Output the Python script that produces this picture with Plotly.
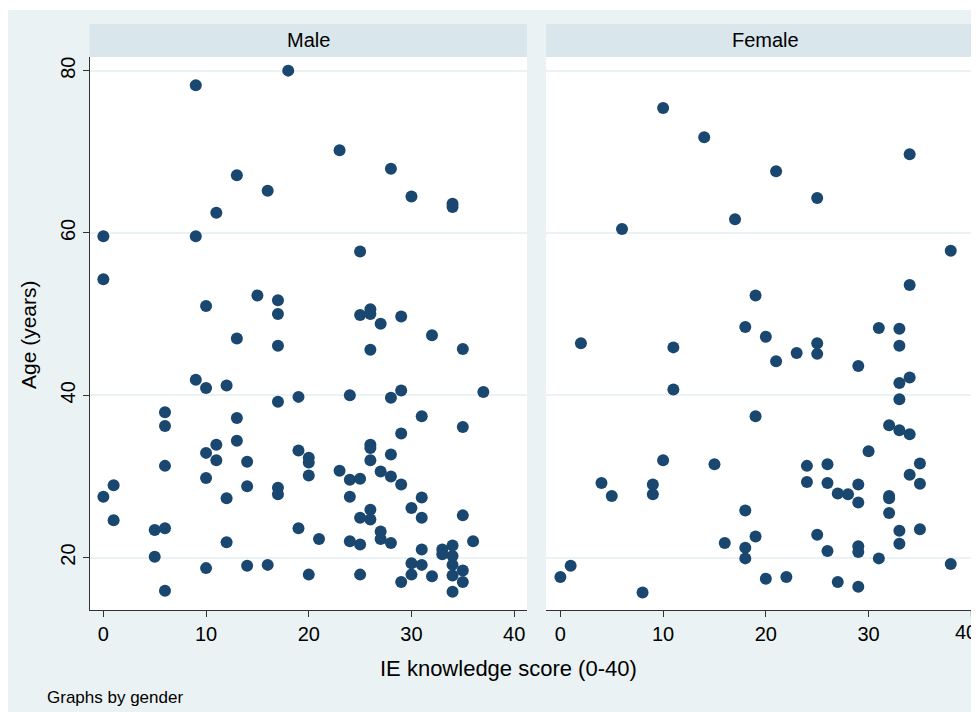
import plotly.graph_objects as go

male_score = [18, 9, 13, 16, 11, 0, 9, 0, 15, 17, 10, 23, 28, 30, 34, 34, 25, 17, 13, 17,
              9, 10, 12, 17, 19, 6, 6, 13, 11, 13, 10, 11, 14, 19, 20, 20, 20, 6, 10, 14,
              17, 17, 1, 0, 12, 1, 5, 6, 19, 12, 5, 10, 14, 16, 20, 6, 25, 26, 26, 27,
              29, 32, 35, 26, 24, 28, 29, 37, 31, 35, 29, 26, 26, 28, 26, 23, 24, 25, 27, 28,
              29, 24, 31, 30, 26, 26, 25, 31, 35, 21, 24, 25, 27, 27, 28, 36, 31, 33, 33, 34,
              34, 34, 30, 31, 35, 25, 29, 30, 32, 34, 35, 34]
male_age = [80.0, 78.2, 67.1, 65.2, 62.5, 59.6, 59.6, 54.3, 52.3, 51.7, 51.0, 70.2, 67.9, 64.5, 63.6, 63.2, 57.7, 50.0, 47.0, 46.1,
            41.9, 40.9, 41.2, 39.2, 39.8, 37.9, 36.2, 37.2, 33.9, 34.4, 32.9, 32.0, 31.8, 33.2, 32.3, 31.7, 30.1, 31.3, 29.8, 28.8,
            28.6, 27.8, 28.9, 27.5, 27.3, 24.6, 23.4, 23.6, 23.6, 21.9, 20.1, 18.7, 19.0, 19.1, 17.9, 15.9, 49.9, 50.6, 50.0, 48.8,
            49.7, 47.4, 45.7, 45.6, 40.0, 39.7, 40.6, 40.4, 37.4, 36.1, 35.3, 33.9, 33.5, 32.7, 32.0, 30.7, 29.6, 29.7, 30.6, 30.0,
            29.0, 27.5, 27.4, 26.1, 25.9, 24.7, 24.9, 24.9, 25.2, 22.3, 22.0, 21.6, 23.2, 22.3, 21.8, 22.0, 21.0, 21.0, 20.4, 21.5,
            20.2, 19.1, 19.3, 19.1, 18.4, 17.9, 17.0, 17.9, 17.7, 17.8, 17.0, 15.8]

female_score = [10, 14, 6, 17, 19, 34, 21, 25, 38, 34, 2, 11, 11, 18, 19, 10, 15, 4, 5, 9,
                9, 18, 16, 18, 18, 19, 1, 0, 8, 20, 21, 23, 25, 25, 29, 31, 33, 33, 34, 33,
                33, 32, 33, 34, 30, 24, 26, 35, 34, 24, 26, 35, 27, 28, 29, 29, 32, 32, 32, 33,
                35, 33, 25, 26, 29, 29, 31, 38, 20, 22, 27, 29]
female_age = [75.4, 71.8, 60.5, 61.7, 52.3, 69.7, 67.6, 64.3, 57.8, 53.6, 46.4, 45.9, 40.7, 48.4, 37.4, 32.0, 31.5, 29.2, 27.6, 29.0,
              27.8, 25.8, 21.8, 21.2, 19.9, 22.6, 19.0, 17.6, 15.7, 47.2, 44.2, 45.2, 46.4, 45.1, 43.6, 48.3, 48.2, 46.1, 42.2, 41.5,
              39.5, 36.3, 35.7, 35.2, 33.1, 31.3, 31.5, 31.6, 30.2, 29.3, 29.2, 29.1, 27.9, 27.8, 29.0, 26.8, 27.6, 27.3, 25.5, 23.3,
              23.5, 21.7, 22.8, 20.8, 21.4, 20.7, 19.9, 19.2, 17.4, 17.6, 17.0, 16.4]

panel_titles = ["Male", "Female"]
x_ticks = [0, 10, 20, 30, 40]
y_ticks = [20, 40, 60, 80]

# page has an 8px body margin; lay out in page pixels and convert
OFF = 8
W, H = 979 - OFF, 712 - OFF
BG = "#eaf2f3"
STRIP = "#d9e6eb"
MARK = "#1a476f"
FONT = "Liberation Sans, Arial, Helvetica, sans-serif"


def px(x):
    return (x - OFF) / W


def py(y):
    return 1 - (y - OFF) / H


fig = go.Figure()
mk = dict(color=MARK, size=12, line=dict(width=0))
fig.add_trace(go.Scatter(x=male_score, y=male_age, mode="markers", marker=mk,
                         xaxis="x", yaxis="y", showlegend=False))
fig.add_trace(go.Scatter(x=female_score, y=female_age, mode="markers", marker=mk,
                         xaxis="x2", yaxis="y2", showlegend=False))

tickfont = dict(family=FONT, size=20, color="#000")
xcommon = dict(tickvals=x_ticks, ticks="outside", ticklen=6, tickcolor="#333",
               showline=True, linecolor="#333", linewidth=1, showgrid=False,
               zeroline=False, tickfont=tickfont, automargin=False)
ycommon = dict(tickvals=y_ticks, range=[13.54, 81.68], showgrid=True,
               gridcolor=BG, gridwidth=1.5, zeroline=False, automargin=False)

annotations = [
    dict(text=panel_titles[0], xref="paper", yref="paper", x=px(308), y=py(40.5),
         xanchor="center", yanchor="middle",
         showarrow=False, font=dict(family=FONT, size=20, color="#000")),
    dict(text=panel_titles[1], xref="paper", yref="paper", x=px(765), y=py(40.5),
         xanchor="center", yanchor="middle",
         showarrow=False, font=dict(family=FONT, size=20, color="#000")),
    dict(text="IE knowledge score (0-40)", xref="paper", yref="paper", x=px(508), y=py(668),
         xanchor="center", yanchor="middle",
         showarrow=False, font=dict(family=FONT, size=22, color="#000")),
    dict(text="Age (years)", xref="paper", yref="paper", x=px(28), y=py(335),
         xanchor="center", yanchor="middle",
         showarrow=False, textangle=-90, font=dict(family=FONT, size=21, color="#000")),
    dict(text="Graphs by gender", xref="paper", yref="paper", x=px(45), y=py(697),
         xanchor="left", yanchor="middle", showarrow=False,
         font=dict(family=FONT, size=17, color="#000")),
    # last female tick label, kept inside the window edge
    dict(text=str(x_ticks[-1]), xref="paper", yref="paper", x=1.0, y=py(632),
         xanchor="right", yanchor="middle", showarrow=False,
         font=dict(family=FONT, size=20, color="#000")),
]

fig.update_layout(
    width=W, height=H,
    margin=dict(l=0, r=0, t=0, b=0, pad=0),
    paper_bgcolor=BG, plot_bgcolor="white",
    xaxis=dict(domain=[px(89.5), px(527)], range=[-1.35, 41.25], anchor="y", **xcommon),
    xaxis2=dict(domain=[px(546), 1.0], range=[-1.4, 40.75], anchor="y2", **xcommon),
    yaxis=dict(domain=[py(610), py(57)], anchor="x", ticks="outside", ticklen=6,
               tickcolor="#333", showline=True, linecolor="#333", linewidth=1,
               tickangle=-90, tickfont=tickfont, **ycommon),
    yaxis2=dict(domain=[py(610), py(57)], anchor="x2", showticklabels=False,
                showline=False, ticks="", **ycommon),
    shapes=[
        dict(type="rect", xref="paper", yref="paper", x0=0, x1=1, y0=py(10), y1=1,
             fillcolor="white", line=dict(width=0), layer="below"),
        dict(type="rect", xref="paper", yref="paper", x0=px(89.5), x1=px(527), y0=py(57), y1=py(24),
             fillcolor=STRIP, line=dict(width=0), layer="below"),
        dict(type="rect", xref="paper", yref="paper", x0=px(546), x1=1, y0=py(57), y1=py(24),
             fillcolor=STRIP, line=dict(width=0), layer="below"),
        # tick mark for the last female tick (label is drawn separately)
        dict(type="line", xref="x2", yref="paper", x0=x_ticks[-1], x1=x_ticks[-1],
             y0=py(616.5), y1=py(610.5), line=dict(color="#333", width=1)),
    ],
    annotations=annotations,
)

fig.write_html("out.html")
